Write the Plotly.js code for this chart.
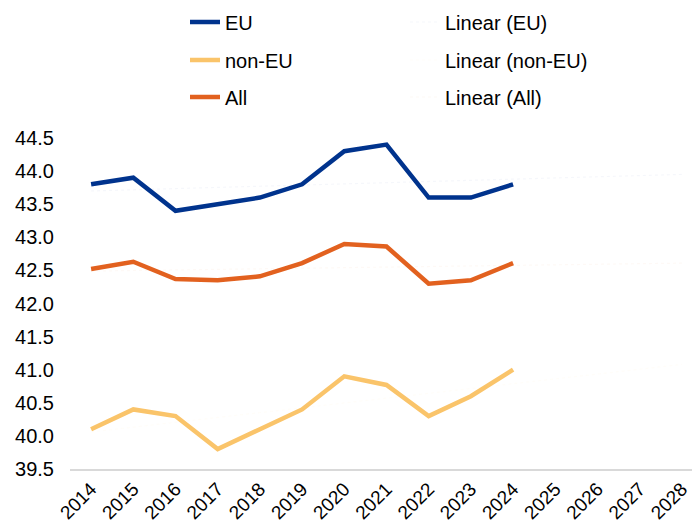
<!DOCTYPE html>
<html>
<head>
<meta charset="utf-8">
<script src="https://cdn.plot.ly/plotly-3.0.1.min.js"></script>
<style>html,body{margin:0;padding:0;background:#fff;}#chart{width:692px;height:524px;}</style>
</head>
<body>
<div id="chart"></div>
<script>
var years = ['2014','2015','2016','2017','2018','2019','2020','2021','2022','2023','2024','2025','2026','2027','2028'];
var dataYears = ['2014','2015','2016','2017','2018','2019','2020','2021','2022','2023','2024'];
var euValues = [43.8, 43.9, 43.4, 43.5, 43.6, 43.8, 44.3, 44.4, 43.6, 43.6, 43.8];
var nonEuValues = [40.1, 40.4, 40.3, 39.8, 40.1, 40.4, 40.9, 40.77, 40.3, 40.6, 41.0];
var allValues = [42.52, 42.63, 42.37, 42.35, 42.41, 42.61, 42.9, 42.86, 42.3, 42.35, 42.61];
var trendYears = ['2014', '2028'];
var trendEU = [43.70, 43.95];
var trendNonEU = [40.06, 41.08];
var trendAll = [42.49, 42.61];
var yTicks = [39.5, 40.0, 40.5, 41.0, 41.5, 42.0, 42.5, 43.0, 43.5, 44.0, 44.5];
var yTickText = ['39.5','40.0','40.5','41.0','41.5','42.0','42.5','43.0','43.5','44.0','44.5'];

var FONT = 'Liberation Sans, Arial, sans-serif';
var cEU = '#00338D', cNon = '#FAC46A', cAll = '#E2611F';

function main(name, y, color, leg) {
  return {x: dataYears, y: y, name: name, type: 'scatter', mode: 'lines',
    line: {color: color, width: 4.5}, legend: leg, cliponaxis: false};
}
function trend(name, y, color, leg) {
  return {x: trendYears, y: y, name: name, type: 'scatter', mode: 'lines',
    line: {color: color, width: 1.2, dash: 'dot'}, opacity: 0.04, legend: leg};
}

var traces = [
  main('EU', euValues, cEU, 'legend'),
  trend('Linear (EU)', trendEU, cEU, 'legend'),
  main('non-EU', nonEuValues, cNon, 'legend2'),
  trend('Linear (non-EU)', trendNonEU, cNon, 'legend2'),
  main('All', allValues, cAll, 'legend3'),
  trend('Linear (All)', trendAll, cAll, 'legend3')
];

function leg(ypx) {
  return {orientation: 'h', xref: 'container', yref: 'container',
    x: 185/692, xanchor: 'left', y: 1 - ypx/524, yanchor: 'middle',
    entrywidth: 175, font: {family: FONT, size: 20, color: '#000'},
    bgcolor: 'rgba(0,0,0,0)', traceorder: 'normal'};
}

var layout = {
  width: 692, height: 524,
  margin: {l: 70, r: 0, t: 138, b: 55},
  paper_bgcolor: '#fff', plot_bgcolor: '#fff',
  font: {family: FONT, size: 20, color: '#000'},
  showlegend: true,
  legend: leg(22), legend2: leg(60), legend3: leg(97),
  xaxis: {type: 'category', categoryorder: 'array', categoryarray: years,
    tickvals: years, ticktext: years,
    range: [-0.5, 14.24], tickangle: -45, showgrid: false, zeroline: false,
    showline: true, linecolor: '#d9d9d9', linewidth: 1.5, ticks: '',
    tickfont: {family: FONT, size: 19, color: '#000'}, fixedrange: true},
  yaxis: {range: [39.5, 44.5], tickvals: yTicks, ticktext: yTickText,
    showgrid: false, zeroline: false, showline: false, ticks: '',
    ticklabelstandoff: 15,
    tickfont: {family: FONT, size: 20, color: '#000'}, fixedrange: true}
};

Plotly.newPlot('chart', traces, layout, {displayModeBar: false, staticPlot: true});
</script>
</body>
</html>
